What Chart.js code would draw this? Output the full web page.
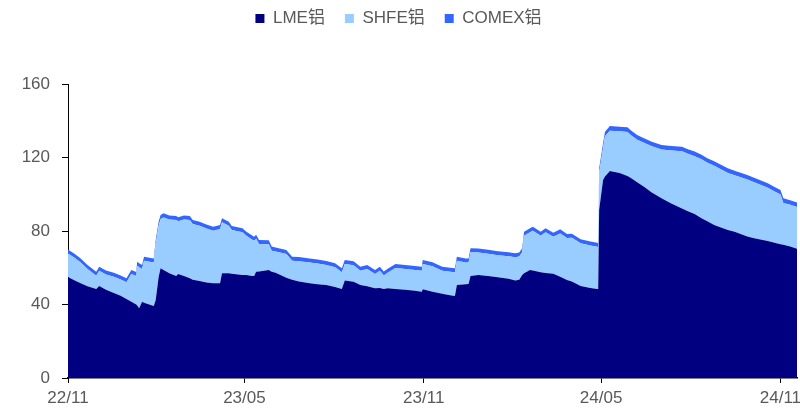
<!DOCTYPE html>
<html lang="zh">
<head>
<meta charset="utf-8"/>
<title>铝库存</title>
<script src="https://cdn.jsdelivr.net/npm/chart.js@4"></script>
<style>
  html, body { margin: 0; padding: 0; background: #fff; }
  #wrap { width: 800px; height: 410px; }
</style>
</head>
<body>
<div id="wrap"><canvas id="kucun"></canvas></div>
<script>
  // 日期 + 三个交易所库存（万吨）
  const riqi = [
    '2022-11-01','2022-11-08','2022-11-14','2022-11-21','2022-11-30','2022-12-03','2022-12-10','2022-12-18','2022-12-25','2022-12-31',
    '2023-01-05','2023-01-10','2023-01-11','2023-01-13','2023-01-16','2023-01-18','2023-01-28','2023-01-30','2023-02-02','2023-02-04',
    '2023-02-07','2023-02-13','2023-02-20','2023-02-22','2023-02-28','2023-03-06','2023-03-09','2023-03-16','2023-03-23','2023-03-30',
    '2023-04-06','2023-04-08','2023-04-15','2023-04-18','2023-04-29','2023-05-03','2023-05-09','2023-05-11','2023-05-13','2023-05-16',
    '2023-05-26','2023-05-29','2023-06-02','2023-06-13','2023-06-19','2023-06-26','2023-07-07','2023-07-15','2023-07-24','2023-08-02',
    '2023-08-09','2023-08-12','2023-08-21','2023-08-28','2023-09-04','2023-09-12','2023-09-17','2023-09-21','2023-09-25','2023-10-03',
    '2023-10-13','2023-10-23','2023-10-30','2023-10-31','2023-11-10','2023-11-20','2023-11-28','2023-12-03','2023-12-05','2023-12-14',
    '2023-12-17','2023-12-19','2023-12-27','2024-01-06','2024-01-16','2024-01-27','2024-02-03','2024-02-07','2024-02-10','2024-02-12',
    '2024-02-18','2024-02-21','2024-02-29','2024-03-05','2024-03-13','2024-03-20','2024-03-27','2024-04-01','2024-04-10','2024-04-20',
    '2024-04-27','2024-04-28','2024-04-29','2024-05-03','2024-05-05','2024-05-10','2024-05-20','2024-05-28','2024-06-01','2024-06-07',
    '2024-06-14','2024-06-22','2024-07-02','2024-07-12','2024-07-23','2024-07-29','2024-08-05','2024-08-12','2024-08-18','2024-08-25',
    '2024-09-08','2024-09-15','2024-09-28','2024-10-05','2024-10-19','2024-10-26','2024-11-01','2024-11-04','2024-11-11','2024-11-18'
  ];
  const lme = [
    55.0,53.0,51.5,50.0,48.4,50.1,48.0,46.3,44.8,43.0,
    41.5,40.0,39.5,37.9,41.5,41.0,39.2,42.4,55.0,59.7,
    58.8,57.0,55.5,56.6,55.5,54.3,53.5,52.8,52.0,51.5,
    51.5,57.0,57.0,56.8,56.0,56.0,55.5,55.5,57.8,58.0,
    58.8,57.8,57.3,54.5,53.5,52.5,51.5,51.0,50.6,49.5,
    48.4,53.0,52.4,50.6,50.0,48.8,49.0,48.5,48.8,48.5,
    48.0,47.5,47.0,48.3,47.0,45.8,45.0,44.6,50.6,51.0,
    51.2,55.5,56.0,55.5,54.8,54.0,53.0,53.5,56.0,57.0,
    58.8,58.5,57.5,57.2,56.8,55.1,53.3,52.5,50.1,49.0,
    48.4,48.5,91.4,107.8,109.6,112.6,111.6,110.0,108.7,106.5,
    104.1,101.0,97.8,95.0,92.3,90.7,89.2,86.9,85.3,83.3,
    80.5,79.6,77.0,76.0,74.5,73.6,72.8,72.5,71.5,70.3
  ];
  const shfe = [
    12.8,12.3,11.4,9.3,7.2,8.3,8.3,8.8,8.8,9.1,
    15.1,15.5,21.6,22.4,17.8,22.8,23.7,30.5,27.8,26.8,
    28.6,29.3,30.5,28.7,30.8,31.7,30.3,30.0,29.3,28.6,
    29.6,27.7,25.9,23.7,23.3,21.4,19.8,19.2,18.0,14.9,
    14.0,11.5,11.5,13.0,10.3,11.1,11.4,11.3,10.9,10.8,
    9.1,9.0,8.9,7.8,9.3,7.8,9.3,7.3,8.5,11.3,
    11.3,11.3,11.4,13.7,13.8,12.6,12.8,12.9,13.2,11.9,
    11.7,12.9,12.3,12.1,12.0,12.3,12.7,12.6,12.4,20.4,
    20.5,21.6,19.9,22.1,20.1,23.6,22.9,23.8,23.2,23.1,
    23.0,22.8,20.2,17.4,21.9,22.0,22.7,23.9,23.3,23.2,
    23.9,25.1,26.5,28.8,31.1,31.3,31.5,32.1,31.8,32.2,
    31.1,30.7,31.0,30.5,29.0,27.9,27.0,22.8,22.8,22.7
  ];
  const comex = [
    2.2,2.2,2.2,2.2,2.2,2.2,2.2,2.2,2.2,2.2,
    2.2,2.2,2.2,2.2,2.2,2.2,2.2,2.2,2.2,2.2,
    2.2,2.2,2.2,2.2,2.2,2.2,2.2,2.2,2.2,2.2,
    2.2,2.2,2.2,2.2,2.2,2.2,2.2,2.2,2.2,2.2,
    2.2,2.2,2.2,2.2,2.2,2.2,2.2,2.2,2.2,2.2,
    2.2,2.2,2.2,2.2,2.2,2.2,2.2,2.2,2.2,2.2,
    2.2,2.2,2.2,2.2,2.2,2.2,2.2,2.2,2.2,2.2,
    2.2,2.2,2.2,2.2,2.2,2.2,2.2,2.2,2.2,2.2,
    2.2,2.2,2.2,2.2,2.2,2.2,2.2,2.2,2.2,2.2,
    2.2,2.2,2.5,2.5,2.5,2.5,2.5,2.5,2.5,2.5,
    2.5,2.5,2.5,2.5,2.5,2.5,2.5,2.5,2.5,2.5,
    2.5,2.5,2.5,2.5,2.5,2.5,2.5,2.5,2.5,2.5
  ];
  const tickRiqi = ['2022-11-01', '2023-05-01', '2023-11-01', '2024-05-01', '2024-11-01'];
  const tickLabels = ['22/11', '23/05', '23/11', '24/05', '24/11'];
  const yTicks = [0, 40, 80, 120, 160];
  const lastRiqi = '2024-11-18';

  const day0 = Date.parse(tickRiqi[0]);
  const toDay = s => (Date.parse(s) - day0) / 86400000;
  const pts = arr => arr.map((v, i) => ({ x: toDay(riqi[i]), y: v }));

  const fontFam = "'Liberation Sans', Arial, 'Noto Sans CJK SC', sans-serif";
  const grey = '#595959';

  // 图例和绘图区之间留空
  const legendGap = {
    id: 'legendGap',
    beforeInit(chart) {
      const fit = chart.legend.fit;
      chart.legend.fit = function () {
        fit.call(this);
        this.height += 47;
      };
    }
  };

  const area = (label, arr, color, fill) => ({
    label: label,
    data: pts(arr),
    backgroundColor: color,
    borderColor: color,
    borderWidth: 0,
    pointRadius: 0,
    tension: 0,
    fill: fill
  });

  new Chart(document.getElementById('kucun'), {
    type: 'line',
    data: {
      datasets: [
        area('LME铝', lme, '#000080', 'origin'),
        area('SHFE铝', shfe, '#99CCFF', '-1'),
        area('COMEX铝', comex, '#3366FF', '-1')
      ]
    },
    options: {
      responsive: true,
      maintainAspectRatio: false,
      animation: false,
      devicePixelRatio: 1,
      layout: { padding: { left: 0, right: 3, top: -10, bottom: 0 } },
      plugins: {
        legend: {
          position: 'top',
          labels: {
            boxWidth: 9,
            boxHeight: 9,
            padding: 20,
            color: grey,
            font: { family: fontFam, size: 17 }
          }
        },
        tooltip: { enabled: false }
      },
      scales: {
        x: {
          type: 'linear',
          min: 0,
          max: toDay(lastRiqi),
          grid: { display: true, drawOnChartArea: false, drawTicks: true, tickLength: 5, color: '#000' },
          border: { display: true, color: '#000', width: 1.5 },
          afterBuildTicks: axis => {
            axis.ticks = tickRiqi.map(d => ({ value: toDay(d) }));
          },
          ticks: {
            padding: 5,
            color: grey,
            maxRotation: 0,
            autoSkip: false,
            font: { family: fontFam, size: 17 },
            callback: (v, i) => tickLabels[i]
          },
          afterFit: axis => {
            axis.height = 32;
            axis.paddingLeft = 0;
            axis.paddingRight = 0;
          }
        },
        y: {
          stacked: true,
          min: 0,
          max: 160,
          grid: { display: true, drawOnChartArea: false, drawTicks: true, tickLength: 6, color: '#000' },
          border: { display: true, color: '#000', width: 1 },
          afterBuildTicks: axis => {
            axis.ticks = yTicks.map(v => ({ value: v }));
          },
          ticks: {
            padding: 12,
            color: grey,
            font: { family: fontFam, size: 17 }
          },
          afterFit: axis => { axis.width = 68; }
        }
      }
    },
    plugins: [legendGap]
  });
</script>
</body>
</html>
